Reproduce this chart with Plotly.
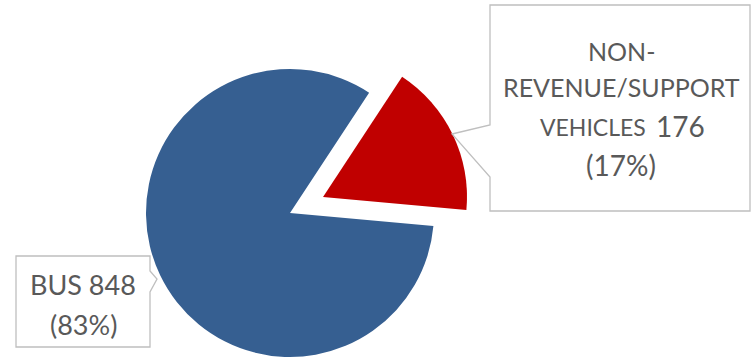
import plotly.graph_objects as go

# Fleet composition
categories = ["BUS", "NON-REVENUE/SUPPORT VEHICLES"]
counts = [848, 176]
colors = ["#365F91", "#C00000"]

W, H = 751, 359
total = sum(counts)
pcts = [round(100 * c / total) for c in counts]
clear = "rgba(0,0,0,0)"


def px(x):
    return x / W


def py(y):
    return 1 - y / H


def pie_trace(highlight, cx, cy, r):
    # one pie per slice so the detached wedge keeps the full radius
    slice_colors = [colors[i] if i == highlight else clear for i in range(len(counts))]
    return go.Pie(
        labels=categories,
        values=counts,
        sort=False,
        direction="clockwise",
        rotation=95.2,
        marker=dict(colors=slice_colors, line=dict(width=0)),
        textinfo="none",
        hoverinfo="label+value+percent",
        domain=dict(x=[px(cx - r), px(cx + r)], y=[py(cy + r), py(cy - r)]),
        showlegend=False,
    )


R = 144
fig = go.Figure()
fig.add_trace(pie_trace(0, 290, 213, R))
fig.add_trace(pie_trace(1, 323, 197, R))


def callout(pts):
    d = "M " + " L ".join(f"{px(x)},{py(y)}" for x, y in pts) + " Z"
    fig.add_shape(type="path", path=d, xref="paper", yref="paper",
                  line=dict(color="#BFBFBF", width=1.3), fillcolor="white", layer="above")


# callout boxes with pointer tails toward their slices
callout([(16, 256), (150, 256), (150, 271), (157, 279), (150, 292), (150, 347), (16, 347)])
callout([(490, 5), (750, 5), (750, 211), (490, 211), (490, 177), (452, 134), (490, 125)])

TXT = "#595959"
FONT = "Lato"


def line(text, x, y, size, anchor="center"):
    fig.add_annotation(text=text, x=px(x), y=py(y), xref="paper", yref="paper",
                       showarrow=False, xanchor=anchor, yanchor="middle",
                       font=dict(family=FONT, size=size, color=TXT))


# BUS label
line(f"{categories[0]} {counts[0]}", 83, 284, 27)
line(f"({pcts[0]}%)", 83, 324, 27)

# non-revenue label, wrapped
name_parts = categories[1].replace("-", "- ").split(" ")
line(name_parts[0], 621, 51, 25)
line(name_parts[1], 621, 87, 25)
line(name_parts[2], 648, 127.5, 23, anchor="right")
line(str(counts[1]), 654, 126, 28, anchor="left")
line(f"({pcts[1]}%)", 621, 165, 28)

fig.update_layout(
    width=W, height=H,
    margin=dict(l=0, r=0, t=0, b=0),
    paper_bgcolor="white", plot_bgcolor="white",
)
fig.write_html("out.html")
